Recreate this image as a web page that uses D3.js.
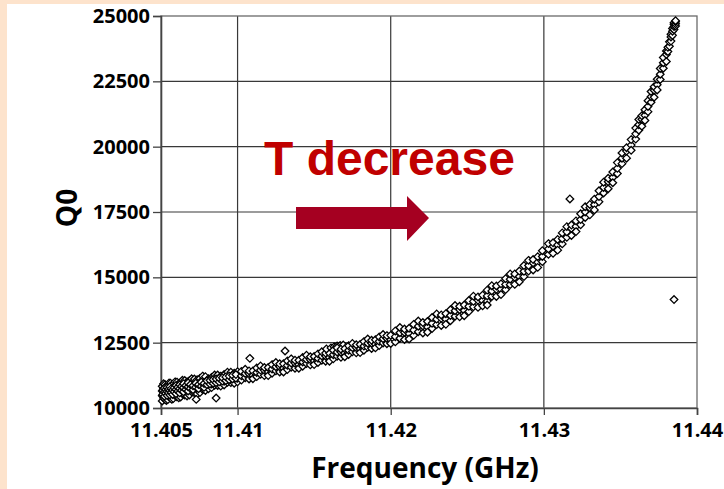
<!DOCTYPE html>
<html>
<head>
<meta charset="utf-8">
<script src="https://cdn.jsdelivr.net/npm/d3@7"></script>
<style>
  body { margin: 0; }
  svg { display: block; }
  .tick text { font-family: "Open Sans", sans-serif; font-weight: 700; font-size: 20px; fill: #000; }
  .title { font-family: "Open Sans", sans-serif; font-weight: 700; fill: #000; }
</style>
</head>
<body>
<div id="chart"></div>
<script>
// ---- data: [frequency (GHz), Q0] ----
var sweepLow = [
  [11.40508,10270],[11.40508,10470],[11.40508,10650],[11.40508,10830],
  [11.40517,10380],[11.40517,10580],[11.40517,10750],[11.40517,10930],
  [11.40526,10330],[11.40526,10530],[11.40526,10720],[11.40526,10900],
  [11.40535,10470],[11.40535,10650],[11.40535,10830],[11.40535,10290],
  [11.40544,10320],[11.40544,10520],[11.40544,10700],[11.40544,10880],
  [11.40553,10430],[11.40553,10630],[11.40553,10800],[11.40553,10960],
  [11.40562,10380],[11.40562,10580],[11.40562,10770],[11.40562,10950],
  [11.40571,10510],[11.40571,10690],[11.40571,10870],[11.40571,10330],
  [11.40580,10360],[11.40580,10560],[11.40580,10740],[11.40580,10920],
  [11.40592,10480],[11.40592,10680],[11.40592,10850],[11.40592,11000],
  [11.40604,10430],[11.40604,10630],[11.40604,10820],[11.40604,10990],
  [11.40616,10570],[11.40616,10750],[11.40616,10930],[11.40616,10390],
  [11.40628,10420],[11.40628,10620],[11.40628,10800],[11.40628,10980],
  [11.40640,10540],[11.40640,10740],[11.40640,10910],[11.40640,11060],
  [11.40655,10500],[11.40655,10700],[11.40655,10890],[11.40655,11050],
  [11.40670,10640],[11.40670,10820],[11.40670,11000],[11.40670,10460],
  [11.40685,10500],[11.40685,10700],[11.40685,10880],[11.40685,11040],
  [11.40700,10620],[11.40700,10820],[11.40700,10990],[11.40700,11120],
  [11.40718,10580],[11.40718,10780],[11.40718,10970],[11.40718,11110],
  [11.40736,10720],[11.40736,10900],[11.40736,11080],[11.40736,10540],
  [11.40754,10590],[11.40754,10790],[11.40754,10970],[11.40754,11130],
  [11.40772,10710],[11.40772,10910],[11.40772,11080],[11.40772,11220],
  [11.40790,10670],[11.40790,10870],[11.40790,11060],[11.40790,11200],
  [11.40810,10870],[11.40810,10990],[11.40810,11120],[11.40810,10740],
  [11.40830,10780],[11.40830,10920],[11.40830,11040],[11.40830,11170],
  [11.40850,10870],[11.40850,11010],[11.40850,11130],[11.40850,11260],
  [11.40870,10860],[11.40870,11000],[11.40870,11130],[11.40870,11260],
  [11.40890,10970],[11.40890,11090],[11.40890,11220],[11.40890,10840],
  [11.40912,10880],[11.40912,11020],[11.40912,11150],[11.40912,11280],
  [11.40934,10980],[11.40934,11120],[11.40934,11240],[11.40934,11370],
  [11.40956,10970],[11.40956,11110],[11.40956,11240],[11.40956,11370],
  [11.40978,11080],[11.40978,11210],[11.40978,11330],[11.40978,10950],
  [11.41000,11000],[11.41000,11140],[11.41000,11260],[11.41000,11390]
];
// second pass through the cold end (denser core of the band)
var sweepLowCore = [
  [11.40512,10520],[11.40512,10680],[11.40522,10450],[11.40522,10610],[11.40522,10760],
  [11.40531,10560],[11.40531,10700],[11.40540,10480],[11.40540,10640],[11.40540,10790],
  [11.40549,10580],[11.40549,10720],[11.40558,10500],[11.40558,10660],[11.40558,10810],
  [11.40567,10600],[11.40567,10740],[11.40576,10520],[11.40576,10690],[11.40586,10620],
  [11.40586,10770],[11.40598,10550],[11.40598,10710],[11.40598,10860],[11.40610,10650],
  [11.40610,10800],[11.40622,10580],[11.40622,10740],[11.40622,10890],[11.40634,10680],
  [11.40634,10830],[11.40647,10620],[11.40647,10780],[11.40647,10930],[11.40662,10710],
  [11.40662,10860],[11.40677,10650],[11.40677,10810],[11.40677,10960],[11.40692,10750],
  [11.40692,10900],[11.40709,10700],[11.40709,10850],[11.40727,10800],[11.40727,10950],
  [11.40745,10740],[11.40745,10900],[11.40763,10840],[11.40763,10990],[11.40781,10790],
  [11.40781,10940],[11.40800,10890],[11.40800,11040],[11.40820,10920],[11.40820,11060],
  [11.40840,10950],[11.40840,11090],[11.40860,10970],[11.40860,11110],[11.40880,11000],
  [11.40880,11140],[11.40901,11030],[11.40901,11160],[11.40923,11050],[11.40923,11190],
  [11.40945,11080],[11.40945,11220],[11.40967,11110],[11.40967,11250],[11.40989,11140],
  [11.40989,11280]
];
var sweepMid = [
  [11.41025,11070],[11.41025,11230],[11.41025,11400],[11.41050,11160],[11.41050,11320],[11.41050,11480],
  [11.41075,11110],[11.41075,11310],[11.41075,11420],[11.41100,11250],[11.41100,11420],[11.41100,11120],
  [11.41125,11200],[11.41125,11360],[11.41125,11530],[11.41150,11290],[11.41150,11450],[11.41150,11610],
  [11.41175,11240],[11.41175,11440],[11.41175,11550],[11.41200,11380],[11.41200,11550],[11.41200,11240],
  [11.41225,11330],[11.41225,11490],[11.41225,11660],[11.41250,11420],[11.41250,11580],[11.41250,11740],
  [11.41275,11380],[11.41275,11580],[11.41275,11690],[11.41300,11520],[11.41300,11690],[11.41300,11380],
  [11.41325,11470],[11.41325,11630],[11.41325,11800],[11.41350,11560],[11.41350,11720],[11.41350,11880],
  [11.41375,11520],[11.41375,11720],[11.41375,11830],[11.41400,11660],[11.41400,11830],[11.41400,11520],
  [11.41425,11600],[11.41425,11760],[11.41425,11930],[11.41450,11700],[11.41450,11860],[11.41450,12020],
  [11.41475,11650],[11.41475,11850],[11.41475,11960],[11.41500,11800],[11.41500,11970],[11.41500,11660],
  [11.41525,11740],[11.41525,11900],[11.41525,12070],[11.41550,11830],[11.41550,11990],[11.41550,12150],
  [11.41575,11790],[11.41575,11990],[11.41575,12100],[11.41600,11930],[11.41600,12100],[11.41600,11790],
  [11.41580,12260],[11.41610,12300],[11.41630,12340],[11.41650,12370],[11.41670,12390],[11.41690,12410],
  [11.41625,11880],[11.41625,12040],[11.41625,12210],[11.41650,11980],[11.41650,12140],[11.41650,12300],
  [11.41675,11940],[11.41675,12140],[11.41675,12250],[11.41700,12100],[11.41700,12270],[11.41700,11960],
  [11.41725,12050],[11.41725,12210],[11.41725,12380],[11.41750,12150],[11.41750,12310],[11.41750,12470],
  [11.41775,12110],[11.41775,12310],[11.41775,12420],[11.41800,12260],[11.41800,12430],[11.41800,12120],
  [11.41825,12210],[11.41825,12370],[11.41825,12540],[11.41850,12320],[11.41850,12480],[11.41850,12640],
  [11.41875,12280],[11.41875,12480],[11.41875,12590],[11.41900,12440],[11.41900,12610],[11.41900,12300],
  [11.41925,12390],[11.41925,12550],[11.41925,12720],[11.41950,12490],[11.41950,12650],[11.41950,12810],
  [11.41975,12460],[11.41975,12660],[11.41975,12770],[11.42000,12610],[11.42000,12780],[11.42000,12470]
];
var sweepHigh = [
  [11.4203,12530],[11.4203,12730],[11.4203,12950],[11.4206,12670],[11.4206,12880],[11.4206,13080],
  [11.4209,12620],[11.4209,12890],[11.4209,13020],[11.4212,12840],[11.4212,13050],[11.4212,12640],
  [11.4215,12780],[11.4215,12980],[11.4215,13200],[11.4218,12920],[11.4218,13130],[11.4218,13330],
  [11.4221,12870],[11.4221,13140],[11.4221,13270],[11.4224,13100],[11.4224,13310],[11.4224,12900],
  [11.4227,13040],[11.4227,13240],[11.4227,13460],[11.4230,13190],[11.4230,13400],[11.4230,13600],
  [11.4233,13160],[11.4233,13430],[11.4233,13560],[11.4236,13400],[11.4236,13610],[11.4236,13200],
  [11.4239,13340],[11.4239,13540],[11.4239,13760],[11.4242,13510],[11.4242,13720],[11.4242,13920],
  [11.4245,13490],[11.4245,13760],[11.4245,13890],[11.4248,13730],[11.4248,13940],[11.4248,13530],
  [11.4251,13690],[11.4251,13890],[11.4251,14110],[11.4254,13870],[11.4254,14080],[11.4254,14280],
  [11.4257,13850],[11.4257,14120],[11.4257,14250],[11.4260,14110],[11.4260,14320],[11.4260,13910],
  [11.4263,14090],[11.4263,14290],[11.4263,14510],[11.4266,14270],[11.4266,14480],[11.4266,14680],
  [11.4269,14270],[11.4269,14540],[11.4269,14670],[11.4272,14540],[11.4272,14750],[11.4272,14340],
  [11.4275,14530],[11.4275,14730],[11.4275,14950],[11.4278,14720],[11.4278,14930],[11.4278,15130],
  [11.4281,14730],[11.4281,15000],[11.4281,15130],[11.4284,15030],[11.4284,15240],[11.4284,14830],
  [11.4287,15030],[11.4287,15230],[11.4287,15450],[11.4290,15240],[11.4290,15450],[11.4290,15650],
  [11.4293,15280],[11.4293,15550],[11.4293,15680],[11.4296,15580],[11.4296,15790],[11.4296,15380],
  [11.4299,15600],[11.4299,15800],[11.4299,16020]
];
var sweepTop = [
  [11.4303,15880],[11.4303,16090],[11.4303,16290],[11.4306,15920],[11.4306,16190],[11.4306,16320],
  [11.4309,16240],[11.4309,16450],[11.4309,16040],[11.4312,16280],[11.4312,16480],[11.4312,16700],
  [11.4315,16530],[11.4315,16740],[11.4315,16940],[11.4318,16600],[11.4318,16870],[11.4318,17000],
  [11.4321,16950],[11.4321,17160],[11.4321,16750],[11.4324,17010],[11.4324,17210],[11.4324,17430],
  [11.4327,17290],[11.4327,17500],[11.4327,17700],[11.4330,17390],[11.4330,17660],[11.4330,17790],
  [11.4333,17780],[11.4333,17990],[11.4333,17580],[11.4336,17890],[11.4336,18090],[11.4336,18310],
  [11.4339,18230],[11.4339,18440],[11.4339,18640],[11.4342,18390],[11.4342,18660],[11.4342,18790],
  [11.4345,18820],[11.4345,19030],[11.4345,18620],[11.4348,18970],[11.4348,19170],[11.4348,19390],
  [11.4351,19350],[11.4351,19560],[11.4351,19760],[11.4354,19560],[11.4354,19830],[11.4354,19960],
  [11.4357,20060],[11.4357,20270],[11.4357,19860],[11.4360,20290],[11.4360,20490],[11.4360,20710],
  [11.4362,20630],[11.4362,20840],[11.4362,21040],[11.4364,20780],[11.4364,21050],[11.4364,21180],
  [11.4366,21200],[11.4366,21410],[11.4366,21000],[11.4368,21340],[11.4368,21540],[11.4368,21760],
  [11.4370,21700],[11.4370,21910],[11.4370,22110],[11.4372,21890],[11.4372,22160],[11.4372,22290],
  [11.4374,22370],[11.4374,22580],[11.4374,22170],[11.4376,22570],[11.4376,22770],[11.4376,22990],
  [11.4378,23000],[11.4378,23210],[11.4378,23410],[11.4380,23260],[11.4380,23530],[11.4380,23660],
  [11.4381,23640],[11.4381,23800],[11.4382,23840],[11.4382,24010],[11.4383,24040],[11.4383,24200],
  [11.4383,24300],[11.4384,24260],[11.4384,24420],[11.4384,24520],[11.4385,24480],[11.4385,24600],
  [11.4385,24680],[11.4385,24740],[11.4386,24620],[11.4386,24700],[11.4386,24780],[11.4386,24820]
];
var strays = [
  [11.4073,10330],[11.4086,10380],[11.4108,11900],[11.4131,12180],[11.4263,13940],[11.4317,18000],[11.4385,14150]
];

var xTicks = [11.405, 11.41, 11.42, 11.43, 11.44];
var xTickLabels = ["11.405", "11.41", "11.42", "11.43", "11.44"];
var yTicks = [10000, 12500, 15000, 17500, 20000, 22500, 25000];

var W = 724, H = 489;
var svg = d3.select("#chart").append("svg").attr("width", W).attr("height", H);

// slide background (peach edge, white panel)
svg.append("rect").attr("width", W).attr("height", H).attr("fill", "#fde3cc");
svg.append("rect").attr("x", 7).attr("y", 4).attr("width", W - 7).attr("height", H - 4).attr("fill", "#fff");

var x = d3.scaleLinear().domain([11.405, 11.44]).range([161, 697]);
var y = d3.scaleLinear().domain([10000, 25000]).range([408, 16]);

// grid
var grid = svg.append("g").attr("stroke", "#383838").attr("stroke-width", 1.2);
grid.selectAll("line.v").data(xTicks.slice(1, -1)).enter().append("line")
    .attr("x1", function (d) { return x(d); }).attr("x2", function (d) { return x(d); })
    .attr("y1", y(25000)).attr("y2", y(10000));
grid.selectAll("line.h").data(yTicks.slice(1, -1)).enter().append("line")
    .attr("x1", x(11.405)).attr("x2", x(11.44))
    .attr("y1", function (d) { return y(d); }).attr("y2", function (d) { return y(d); });

// frame
svg.append("rect")
    .attr("x", x(11.405)).attr("y", y(25000))
    .attr("width", x(11.44) - x(11.405)).attr("height", y(10000) - y(25000))
    .attr("fill", "none").attr("stroke", "#6a6a6a").attr("stroke-width", 1.3);

// axes
var yAxis = svg.append("g").attr("transform", "translate(" + x(11.405) + ",0)")
    .call(d3.axisLeft(y).tickValues(yTicks).tickSize(8).tickPadding(3).tickFormat(d3.format("d")));
var xAxis = svg.append("g").attr("transform", "translate(0," + y(10000) + ")")
    .call(d3.axisBottom(x).tickValues(xTicks).tickSize(7).tickPadding(8)
        .tickFormat(function (d, i) { return xTickLabels[i]; }));
[yAxis, xAxis].forEach(function (a) {
    a.select(".domain").attr("stroke", "#444").attr("stroke-width", 1.6);
    a.selectAll(".tick line").attr("stroke", "#444").attr("stroke-width", 1.3);
});

// points: open diamonds
var pts = sweepLow.concat(sweepLowCore, sweepMid, sweepHigh, sweepTop, strays);
svg.append("g").selectAll("path").data(pts).enter().append("path")
    .attr("d", "M0,-3.8L3.8,0L0,3.8L-3.8,0Z")
    .attr("transform", function (d) { return "translate(" + x(d[0]) + "," + y(d[1]) + ")"; })
    .attr("fill", "#fff").attr("stroke", "#000").attr("stroke-width", 1.3);

// axis titles
svg.append("text").attr("class", "title")
    .attr("x", 425).attr("y", 478)
    .attr("text-anchor", "middle").style("font-size", "28px")
    .text("Frequency (GHz)");
svg.append("text").attr("class", "title")
    .attr("transform", "translate(77,208) rotate(-90)")
    .attr("text-anchor", "middle").style("font-size", "28px")
    .text("Q0");

// annotation
svg.append("text")
    .attr("x", 264).attr("y", 175)
    .style("font-family", "'Liberation Sans', Arial, sans-serif")
    .style("font-weight", 700).style("font-size", "48px")
    .attr("fill", "#c00000")
    .text("T decrease");
svg.append("path")
    .attr("d", "M296,207L407,207L407,196L429,218L407,241L407,229L296,229Z")
    .attr("fill", "#a50021");
</script>
</body>
</html>
